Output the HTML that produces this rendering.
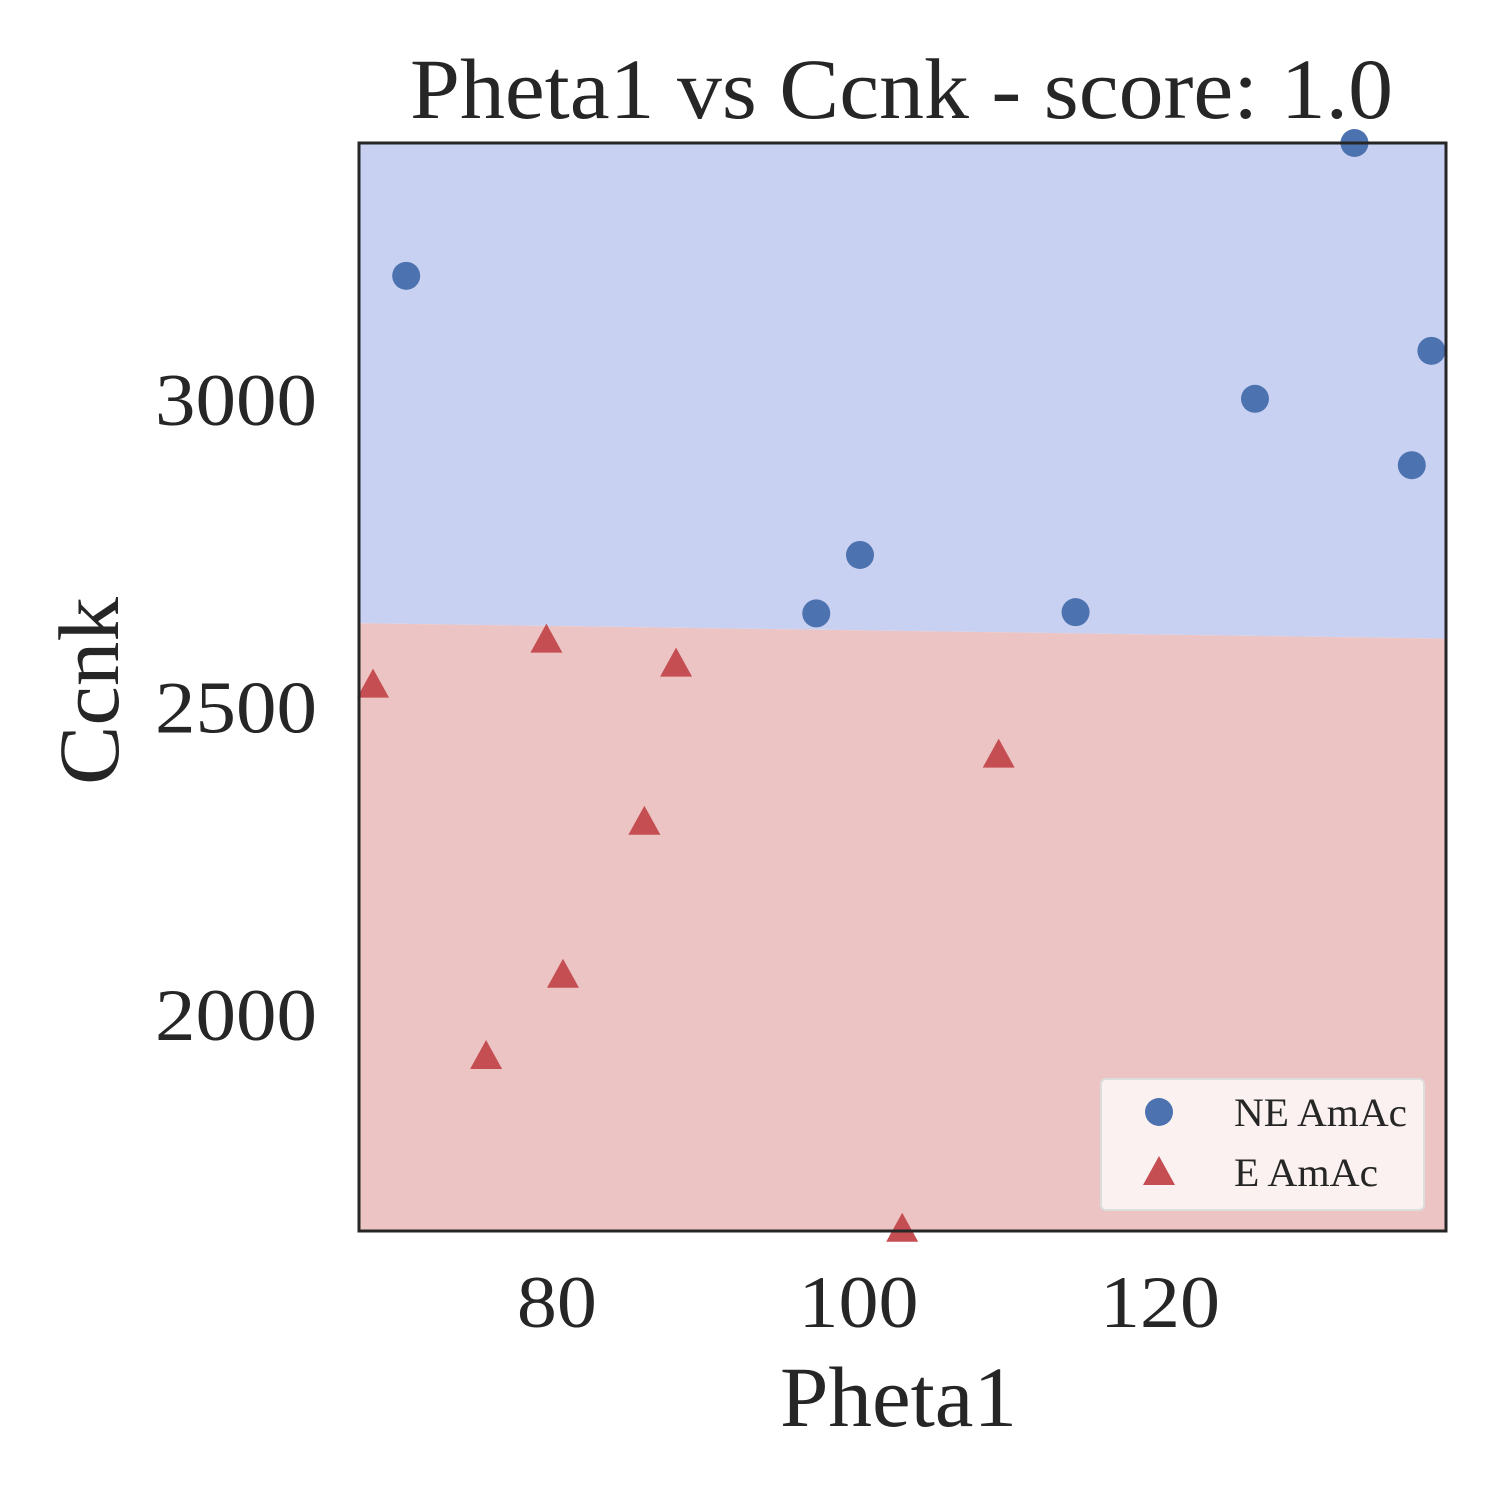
<!DOCTYPE html>
<html><head><meta charset="utf-8"><style>
body{margin:0;background:#fff}
svg text{font-family:"Liberation Serif",serif;fill:#262626}
</style></head><body>
<svg id="chart" width="1500" height="1500">
<g id="regions"></g>
<g id="marks"></g>
<rect x="359" y="143" width="1087" height="1088" fill="none" stroke="#262626" stroke-width="3"/>
<text x="410" y="118" font-size="86" textLength="983" lengthAdjust="spacingAndGlyphs">Pheta1 vs Ccnk - score: 1.0</text>
<text x="780" y="1426" font-size="86" textLength="237" lengthAdjust="spacingAndGlyphs">Pheta1</text>
<text transform="translate(118,785) rotate(-90)" font-size="86" textLength="188" lengthAdjust="spacingAndGlyphs">Ccnk</text>
<g id="ticks"></g>
<g>
<rect x="1101" y="1079" width="323" height="131" rx="5" fill="#faf1f0" stroke="#ddd" stroke-width="2"/>
<circle cx="1159" cy="1112" r="14" fill="#4c72b0"/>
<text x="1234" y="1126" font-size="40" textLength="173" lengthAdjust="spacingAndGlyphs">NE AmAc</text>
<polygon points="1159,1156 1175,1185 1143,1185" fill="#c44e52"/>
<text x="1234" y="1186" font-size="40" textLength="144" lengthAdjust="spacingAndGlyphs">E AmAc</text>
</g>
</svg>
<script>
const xTicks=[80,100,120];
const yTicks=[2000,2500,3000];
const neX=[70.0,132.9,138.0,126.3,136.7,100.1,97.2,114.4];
const neY=[3202,3418,3080,3002,2894,2748,2653,2655];
const eX=[67.8,79.3,87.9,109.3,85.8,80.4,75.3,102.9];
const eY=[2534,2607,2568,2420,2311,2062,1930,1649];
const boundaryX=[66.87,138.97];
const boundaryY=[2637,2612];
const X0=359,X1=1446,Y0=1231,Y1=143,xmin=66.87,xmax=138.97,ymin=1648.6,ymax=3418;
const sx=v=>X0+(v-xmin)/(xmax-xmin)*(X1-X0);
const sy=v=>Y0-(v-ymin)/(ymax-ymin)*(Y0-Y1);
const NS='http://www.w3.org/2000/svg';
function mk(t,a,p){const e=document.createElementNS(NS,t);for(const k in a)e.setAttribute(k,a[k]);p.appendChild(e);return e;}
const reg=document.getElementById('regions');
const bx0=sx(boundaryX[0]),bx1=sx(boundaryX[1]),by0=sy(boundaryY[0]),by1=sy(boundaryY[1]);
let r=mk('polygon',{points:`${X0},${Y1} ${X1},${Y1} ${bx1},${by1} ${bx0},${by0}`,fill:'#c8d1f1'},reg);


r=mk('polygon',{points:`${bx0},${by0} ${bx1},${by1} ${X1},${Y0} ${X0},${Y0}`,fill:'#edc4c4'},reg);


const tk=document.getElementById('ticks');
xTicks.forEach(v=>{const s=String(v);const t=mk('text',{x:sx(v),y:1327,'font-size':74,'text-anchor':'middle',textLength:s.length*40,lengthAdjust:'spacingAndGlyphs'},tk);t.textContent=s;

});
yTicks.forEach(v=>{const s=String(v);const t=mk('text',{x:317-162,y:sy(v)+25,'font-size':74,textLength:162,lengthAdjust:'spacingAndGlyphs'},tk);t.textContent=s;

});
const mg=document.getElementById('marks');
neX.forEach((v,i)=>{const c=mk('circle',{cx:sx(v),cy:sy(neY[i]),r:14,fill:'#4c72b0'},mg);

});
eX.forEach((v,i)=>{const x=sx(v),y=sy(eY[i]);const p=mk('polygon',{points:`${x},${y-18} ${x+16},${y+11} ${x-16},${y+11}`,fill:'#c44e52'},mg);

});
</script>
</body></html>
